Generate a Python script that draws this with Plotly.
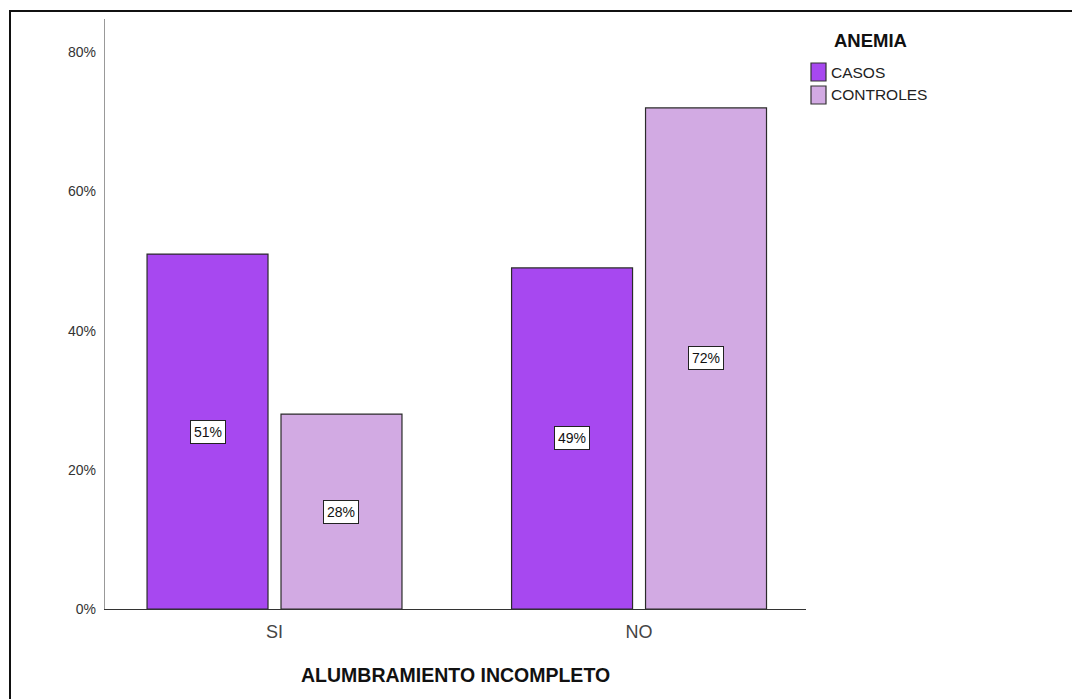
import plotly.graph_objects as go

# Categories and percentages per group
categories = ["SI", "NO"]
series_names = ["CASOS", "CONTROLES"]
casos = [51, 49]
controles = [28, 72]
series_values = [casos, controles]
y_ticks = [0, 20, 40, 60, 80]

colors = ["#A748F0", "#D2AAE3"]
FONT = "Liberation Sans, Arial, sans-serif"

W, H = 1072, 699
L, R, T, B = 105, 266, 19, 90
PW, PH = W - L - R, H - T - B


def px(x):
    return (x - L) / PW


def py(y):
    return (H - B - y) / PH


fig = go.Figure()
for name, vals, col in zip(series_names, series_values, colors):
    fig.add_trace(go.Bar(
        x=categories, y=vals, name=name,
        marker=dict(color=col, line=dict(color="#2b2b2b", width=1.2)),
        showlegend=False, hoverinfo="skip",
    ))

bargap = 0.265
bargroupgap = 0.097
slot = (1 - bargap) / len(series_names)

# Value labels in white boxes at the middle of each bar
annotations = []
for si, vals in enumerate(series_values):
    offset = -(1 - bargap) / 2 + slot * (si + 0.5)
    for ci, v in enumerate(vals):
        annotations.append(dict(
            x=ci + offset, y=v / 2, xref="x", yref="y",
            text=f"{v}%", showarrow=False,
            font=dict(family=FONT, size=14, color="#111"),
            bgcolor="white", bordercolor="#222", borderwidth=1, borderpad=3,
        ))

# Axis title
annotations.append(dict(
    x=0.5, y=py(675), xref="paper", yref="paper",
    text="<b>ALUMBRAMIENTO INCOMPLETO</b>", showarrow=False,
    xanchor="center", yanchor="middle",
    font=dict(family=FONT, size=19.5, color="#111"),
))

# Legend
annotations.append(dict(
    x=px(832), y=py(40), xref="paper", yref="paper",
    text="<b>ANEMIA</b>", showarrow=False, xanchor="left", yanchor="middle",
    font=dict(family=FONT, size=18.5, color="#111"),
))
shapes = []
legend_rows = [(63, 81), (86, 104)]
for name, col, (y0, y1) in zip(series_names, colors, legend_rows):
    shapes.append(dict(
        type="rect", xref="paper", yref="paper",
        x0=px(811), x1=px(826), y0=py(y1), y1=py(y0),
        fillcolor=col, line=dict(color="#333", width=1.2),
    ))
    annotations.append(dict(
        x=px(829), y=py((y0 + y1) / 2), xref="paper", yref="paper",
        text=name, showarrow=False, xanchor="left", yanchor="middle",
        font=dict(family=FONT, size=15.5, color="#222"),
    ))

# Outer frame
shapes.append(dict(
    type="rect", xref="paper", yref="paper",
    x0=px(10), x1=px(1200), y0=py(800), y1=py(11),
    line=dict(color="#111", width=2), fillcolor="rgba(0,0,0,0)", layer="above",
))

fig.update_layout(
    width=W, height=H,
    margin=dict(l=L, r=R, t=T, b=B),
    paper_bgcolor="white", plot_bgcolor="white",
    barmode="group", bargap=bargap, bargroupgap=bargroupgap,
    showlegend=False,
    annotations=annotations, shapes=shapes,
    xaxis=dict(
        type="category", range=[-0.465, 1.458],
        showline=True, linecolor="#333", linewidth=1.2,
        showgrid=False, zeroline=False, ticks="",
        tickfont=dict(family=FONT, size=18, color="#444"),
        ticklabelstandoff=6,
    ),
    yaxis=dict(
        range=[0, (H - B - T) / 6.96],
        tickvals=y_ticks, ticktext=[f"{t}%" for t in y_ticks],
        showline=True, linecolor="#999", linewidth=1.3,
        showgrid=False, zeroline=False, ticks="",
        tickfont=dict(family=FONT, size=14, color="#333"),
        ticklabelstandoff=5,
    ),
)

fig.write_html("out.html")
